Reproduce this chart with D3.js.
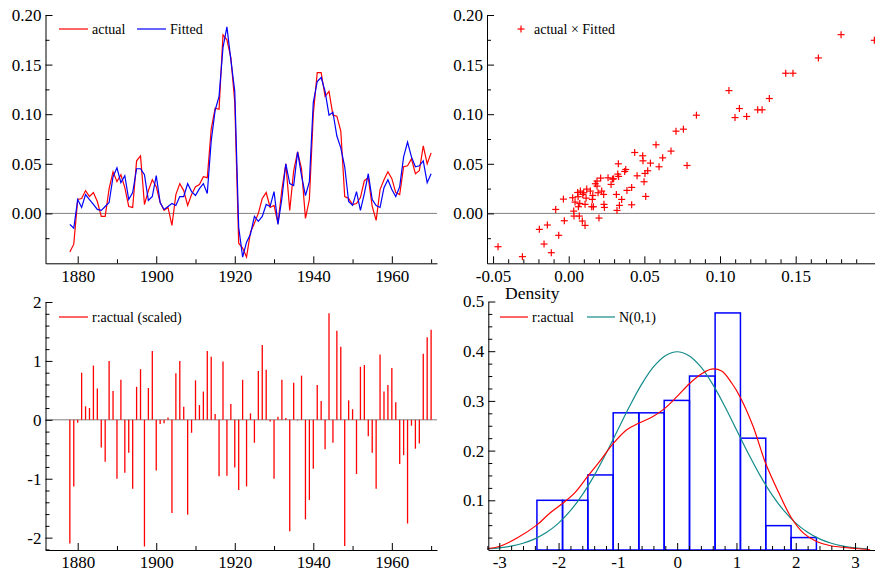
<!DOCTYPE html>
<html>
<head>
<meta charset="utf-8">
<script src="https://cdn.jsdelivr.net/npm/d3@7"></script>
<style>
  body { margin: 0; background: #fff; }
  svg { display: block; }
  svg text { font-family: "Liberation Serif", "Times New Roman", serif; }
</style>
</head>
<body>
<svg id="chart" width="875" height="577"></svg>
<script>
// ---- data ----
const firstYear = 1878

// actual series, 1878..1970
const actual = [
  -0.039, -0.031, 0.014, 0.015, 0.023, 0.017, 0.021, 0.012, -0.003, -0.003,
  0.025, 0.042, 0.032, 0.039, 0.026, 0.007, 0.006, 0.053, 0.058, 0.009,
  0.023, 0.034, 0.027, 0.011, 0.003, 0.006, -0.012, 0.019, 0.030, 0.023,
  0.008, 0.019, 0.027, 0.029, 0.037, 0.036, 0.085, 0.106, 0.105, 0.180,
  0.175, 0.157, 0.112, -0.030, -0.035, -0.044, -0.019, -0.010, 0.000, 0.015,
  0.021, 0.006, 0.008, -0.010, 0.024, 0.050, 0.003, 0.043, 0.062, 0.045,
  -0.005, 0.014, 0.100, 0.142, 0.142, 0.118, 0.123, 0.099, 0.098, 0.083,
  0.017, 0.015, 0.009, 0.010, 0.016, 0.033, 0.036, 0.007, -0.007, 0.024,
  0.034, 0.042, 0.035, 0.021, 0.019, 0.047, 0.048, 0.055, 0.040, 0.043,
  0.068, 0.050, 0.061
]

// fitted series, 1878..1970
const fitted = [
  -0.011, -0.015, 0.014, 0.006, 0.019, 0.014, 0.009, 0.004, 0.003, 0.007,
  0.011, 0.037, 0.046, 0.031, 0.038, 0.014, 0.021, 0.045, 0.045, 0.039,
  0.013, 0.017, 0.038, 0.011, 0.004, 0.007, 0.010, 0.008, 0.017, 0.017,
  0.030, 0.022, 0.018, 0.025, 0.030, 0.020, 0.073, 0.104, 0.118, 0.167,
  0.188, 0.155, 0.123, -0.014, -0.044, -0.029, -0.021, -0.003, -0.008, -0.003,
  0.009, 0.007, 0.022, -0.011, 0.015, 0.050, 0.030, 0.028, 0.062, 0.038,
  0.018, 0.032, 0.112, 0.133, 0.137, 0.123, 0.099, 0.102, 0.078, 0.066,
  0.047, 0.012, 0.008, 0.022, 0.003, 0.020, 0.040, 0.014, 0.008, 0.006,
  0.026, 0.034, 0.024, 0.017, 0.027, 0.057, 0.072, 0.057, 0.047, 0.048,
  0.053, 0.031, 0.040
]

// scaled residuals, 1878..1970
const residScaled = [
  -2.10, -1.13, -0.05, 0.80, 0.23, 0.20, 0.92, 0.53, -0.47, -0.71,
  1.00, 0.49, -1.00, 0.68, -0.90, -0.56, -1.17, 0.56, 0.86, -2.15,
  0.54, 1.17, -0.86, -0.07, -0.06, 0.04, -1.58, 0.79, 1.00, 0.22,
  -1.61, -0.22, 0.67, 0.25, 0.48, 1.17, 1.07, 0.10, -0.96, 0.99,
  -0.95, 0.27, -0.81, -1.19, 0.68, -1.13, 0.11, -0.39, 0.83, 1.27,
  0.85, -0.03, -1.00, 0.05, 0.68, 0.03, -1.89, 0.63, -0.01, 0.75,
  -1.69, -1.36, -0.83, 0.59, 0.32, -0.50, 1.81, -0.39, 1.51, 1.24,
  -2.14, 0.33, 0.18, -0.92, 0.90, 0.93, -0.28, -0.56, -1.17, 1.11,
  0.48, 0.59, 0.88, 0.30, -0.75, -0.60, -1.76, -0.10, -0.49, -0.40,
  1.12, 1.40, 1.53
]

// cross plot (x = Fitted, y = actual)
const crossX = [
  -0.0467, -0.0306, -0.0194, -0.0163, -0.0141, -0.0115, -0.0086, -0.0066, -0.0035, -0.0029,
  0.0026, 0.0033, 0.0035, 0.0042, 0.0059, 0.0062, 0.0064, 0.0070, 0.0073, 0.0077,
  0.0090, 0.0093, 0.0099, 0.0108, 0.0108, 0.0115, 0.0119, 0.0143, 0.0152, 0.0156,
  0.0159, 0.0163, 0.0176, 0.0187, 0.0187, 0.0194, 0.0200, 0.0211, 0.0218, 0.0231,
  0.0233, 0.0236, 0.0260, 0.0280, 0.0289, 0.0297, 0.0315, 0.0319, 0.0324, 0.0328,
  0.0330, 0.0335, 0.0350, 0.0370, 0.0377, 0.0385, 0.0416, 0.0416, 0.0436, 0.0452,
  0.0489, 0.0491, 0.0498, 0.0504, 0.0509, 0.0522, 0.0540, 0.0577, 0.0597, 0.0621,
  0.0676, 0.0709, 0.0758, 0.0782, 0.0844, 0.1059, 0.1099, 0.1128, 0.1176, 0.1249,
  0.1278, 0.1326, 0.1434, 0.1482, 0.1650, 0.1800, 0.2020
]
const crossY = [
  -0.0336, -0.0436, -0.0161, -0.0309, -0.0117, -0.0396, 0.0040, -0.0221, 0.0144, -0.0074,
  0.0158, 0.0023, -0.0027, 0.0114, 0.0211, 0.0168, 0.0067, -0.0027, 0.0101, 0.0225,
  -0.0077, 0.0191, 0.0208, -0.0121, 0.0091, 0.0154, 0.0245, 0.0225, 0.0067, 0.0141,
  0.0181, 0.0067, 0.0299, 0.0326, 0.0275, 0.0208, -0.0047, 0.0356, 0.0225, 0.0191,
  0.0091, 0.0060, 0.0359, 0.0292, 0.0346, 0.0349, 0.0191, 0.0030, 0.0396, 0.0500,
  0.0373, 0.0081, 0.0141, 0.0423, 0.0443, 0.0232, 0.0262, 0.0087, 0.0614, 0.0379,
  0.0581, 0.0530, 0.0319, 0.0403, 0.0171, 0.0430, 0.0507, 0.0692, 0.0470, 0.0560,
  0.0628, 0.0829, 0.0849, 0.0483, 0.0990, 0.1238, 0.0966, 0.1057, 0.0977, 0.1044,
  0.1044, 0.1158, 0.1413, 0.1413, 0.1567, 0.1802, 0.1745
]

// histogram of scaled residuals
const binEdges = [-2.365, -1.933, -1.506, -1.079, -0.646, -0.219, 0.208, 0.640, 1.067, 1.494, 1.921, 2.348]
const binDensity = [0.100, 0.100, 0.151, 0.276, 0.276, 0.301, 0.350, 0.477, 0.225, 0.049, 0.025]

// kernel density of r:actual
const kdeX = [-3.2, -3.0, -2.7, -2.37, -2.15, -1.93, -1.72, -1.51, -1.29, -1.08, -0.85, -0.65, -0.43, -0.22, 0,
  0.21, 0.42, 0.58, 0.75, 0.92, 1.07, 1.28, 1.49, 1.71, 1.92, 2.13, 2.35, 2.57, 3.0, 3.25]
const kdeY = [0.003, 0.007, 0.024, 0.050, 0.074, 0.094, 0.116, 0.148, 0.181, 0.214, 0.242, 0.255, 0.267, 0.284, 0.309,
  0.335, 0.355, 0.364, 0.360, 0.336, 0.306, 0.249, 0.175, 0.116, 0.066, 0.034, 0.017, 0.009, 0.003, 0.001]

// N(0,1) reference curve
const normX = [-3.2, -3.0, -2.8, -2.6, -2.4, -2.2, -2.0, -1.8, -1.6, -1.4, -1.2, -1.0, -0.8, -0.6, -0.4, -0.2, 0,
  0.2, 0.4, 0.6, 0.8, 1.0, 1.2, 1.4, 1.6, 1.8, 2.0, 2.2, 2.4, 2.6, 2.8, 3.0, 3.2]
const normY = [0.0024, 0.0044, 0.0079, 0.0136, 0.0224, 0.0355, 0.0540, 0.0790, 0.1109, 0.1497, 0.1942, 0.2420, 0.2897,
  0.3332, 0.3683, 0.3910, 0.3989, 0.3910, 0.3683, 0.3332, 0.2897, 0.2420, 0.1942, 0.1497, 0.1109, 0.0790, 0.0540,
  0.0355, 0.0224, 0.0136, 0.0079, 0.0044, 0.0024]

const yearTicks = [1880, 1900, 1920, 1940, 1960]
const yearMinor = [1890, 1910, 1930, 1950, 1970]
const levelTicks = [0, 0.05, 0.10, 0.15, 0.20]
const levelMinor = [-0.025, 0.025, 0.075, 0.125, 0.175]
const crossXTicks = [-0.05, 0, 0.05, 0.10, 0.15]
const residTicks = [-2, -1, 0, 1, 2]
const densTicks = [0.1, 0.2, 0.3, 0.4, 0.5]
const zTicks = [-3, -2, -1, 0, 1, 2, 3]

// ---- drawing ----
const svg = d3.select('#chart')
svg.append('rect').attr('width', 875).attr('height', 577).attr('fill', '#fff')

const serif = '"Liberation Serif", "Times New Roman", serif'
const red = '#ff0000', blue = '#0000ff', teal = '#138a8a', grey = '#808080'
const tickFont = 17, legendFont = 14
const fix2 = v => v.toFixed(2)
const plain = v => String(v)

function styleAxis(g) {
    // d3 puts sans-serif 10px on the axis group, override it
    g.attr('font-family', serif).attr('font-size', tickFont)
    g.selectAll('text').attr('font-family', serif).attr('font-size', tickFont).attr('fill', '#000')
    g.selectAll('line,path').attr('stroke', '#000')
}

function leftAxis(x, scale, majors, minors, fmt) {
    // minor ticks first, inside the frame
    svg.append('g')
        .attr('transform', `translate(${x},0)`)
        .call(d3.axisLeft(scale).tickValues(minors).tickSize(-4).tickFormat(''))
        .call(g => g.select('.domain').remove())
        .call(styleAxis)
    svg.append('g')
        .attr('transform', `translate(${x},0)`)
        .call(d3.axisLeft(scale).tickValues(majors).tickSize(-7).tickSizeOuter(0).tickPadding(4).tickFormat(fmt))
        .call(styleAxis)
}

function bottomAxis(y, scale, majors, minors, fmt, pad) {
    svg.append('g')
        .attr('transform', `translate(0,${y})`)
        .call(d3.axisBottom(scale).tickValues(minors).tickSize(-4).tickFormat(''))
        .call(g => g.select('.domain').remove())
        .call(styleAxis)
    svg.append('g')
        .attr('transform', `translate(0,${y})`)
        .call(d3.axisBottom(scale).tickValues(majors).tickSize(-7).tickSizeOuter(0).tickPadding(pad).tickFormat(fmt))
        .call(styleAxis)
}

function legendLine(x1, x2, y, color, label) {
    svg.append('line').attr('x1', x1).attr('x2', x2).attr('y1', y).attr('y2', y)
        .attr('stroke', color).attr('stroke-width', 1.2)
    svg.append('text').attr('x', x2 + 4).attr('y', y + 5).attr('font-size', legendFont).text(label)
}

function plus(sel, size) {
    sel.append('line').attr('x1', -size).attr('x2', size).attr('y1', 0).attr('y2', 0)
    sel.append('line').attr('x1', 0).attr('x2', 0).attr('y1', -size).attr('y2', size)
}

/* 1. top-left: actual and fitted over time */
const xYear = d3.scaleLinear().domain([1871.8, 1971.5]).range([45.5, 437])
const yLevel = d3.scaleLinear().domain([-0.0503, 0.2]).range([263.3, 15])

svg.append('line').attr('x1', 45.5).attr('x2', 437).attr('y1', yLevel(0)).attr('y2', yLevel(0))
    .attr('stroke', grey).attr('stroke-width', 1)

const lineYear = d3.line().x((d, i) => xYear(firstYear + i)).y(d => yLevel(d))
svg.append('path').datum(actual).attr('d', lineYear)
    .attr('fill', 'none').attr('stroke', red).attr('stroke-width', 1.2)
svg.append('path').datum(fitted).attr('d', lineYear)
    .attr('fill', 'none').attr('stroke', blue).attr('stroke-width', 1.2)

leftAxis(45.5, yLevel, levelTicks, levelMinor, fix2)
bottomAxis(263.3, xYear, yearTicks, yearMinor, plain, 7)
legendLine(59, 88, 29, red, 'actual')
legendLine(137, 166, 29, blue, 'Fitted')

/* 2. top-right: cross plot */
const xCross = d3.scaleLinear().domain([-0.054, 0.2044]).range([487, 878])

svg.append('line').attr('x1', 487).attr('x2', 875).attr('y1', yLevel(0)).attr('y2', yLevel(0))
    .attr('stroke', grey).attr('stroke-width', 1)

svg.append('g').attr('stroke', red).attr('stroke-width', 1.2)
    .selectAll('g').data(crossX).join('g')
    .attr('transform', (d, i) => `translate(${xCross(d)},${yLevel(crossY[i])})`)
    .each(function () { plus(d3.select(this), 3.5) })

const crossMinor = d3.range(-4, 20).filter(v => v % 5 !== 0).map(v => v / 100)
leftAxis(487, yLevel, levelTicks, levelMinor, fix2)
bottomAxis(263.3, xCross, crossXTicks, crossMinor, fix2, 7)
svg.append('g').attr('stroke', red).attr('stroke-width', 1.2)
    .attr('transform', 'translate(521,29)').call(g => plus(g, 3.5))
svg.append('text').attr('x', 534).attr('y', 34).attr('font-size', legendFont).text('actual \u00d7 Fitted')

/* 3. bottom-left: scaled residuals */
const yResid = d3.scaleLinear().domain([-2.21, 2]).range([550, 302])

svg.append('line').attr('x1', 45.5).attr('x2', 437).attr('y1', yResid(0)).attr('y2', yResid(0))
    .attr('stroke', grey).attr('stroke-width', 1)

svg.append('g').selectAll('line').data(residScaled).join('line')
    .attr('x1', (d, i) => xYear(firstYear + i)).attr('x2', (d, i) => xYear(firstYear + i))
    .attr('y1', yResid(0)).attr('y2', d => yResid(d))
    .attr('stroke', red).attr('stroke-width', 1.3)

const residMinor = d3.range(-11, 10).filter(v => v % 5 !== 0).map(v => v / 5)
leftAxis(45.5, yResid, residTicks, residMinor, plain)
bottomAxis(550, xYear, yearTicks, yearMinor, plain, 6)
legendLine(59, 88, 317, red, 'r:actual (scaled)')

/* 4. bottom-right: density of residuals */
const xZ = d3.scaleLinear().domain([-3.185, 3.37]).range([488.3, 877])
const yDens = d3.scaleLinear().domain([0, 0.5]).range([550, 301.5])

svg.append('g').selectAll('rect').data(binDensity).join('rect')
    .attr('x', (d, i) => xZ(binEdges[i]))
    .attr('width', (d, i) => xZ(binEdges[i + 1]) - xZ(binEdges[i]))
    .attr('y', d => yDens(d))
    .attr('height', d => yDens(0) - yDens(d))
    .attr('fill', 'none').attr('stroke', blue).attr('stroke-width', 1.5)

svg.append('path').datum(normX)
    .attr('d', d3.line().curve(d3.curveCatmullRom).x(d => xZ(d)).y((d, i) => yDens(normY[i])))
    .attr('fill', 'none').attr('stroke', teal).attr('stroke-width', 1.2)
svg.append('path').datum(kdeX)
    .attr('d', d3.line().curve(d3.curveCatmullRom).x(d => xZ(d)).y((d, i) => yDens(kdeY[i])))
    .attr('fill', 'none').attr('stroke', red).attr('stroke-width', 1.2)

const densMinor = d3.range(1, 20).filter(v => v % 4 !== 0).map(v => v / 40)
const zMinor = d3.range(-16, 17).filter(v => v % 5 !== 0).map(v => v / 5)
leftAxis(488.3, yDens, densTicks, densMinor, plain)
bottomAxis(550, xZ, zTicks, zMinor, plain, 6)

svg.append('text').attr('x', 505).attr('y', 299).attr('font-size', 17.5).text('Density')
legendLine(500, 528, 317, red, 'r:actual')
legendLine(587, 615, 317, teal, 'N(0,1)')
</script>
</body>
</html>
